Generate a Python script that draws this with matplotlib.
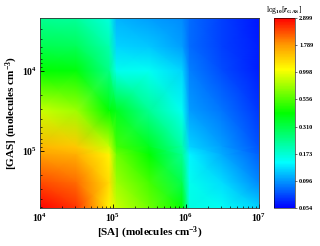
import numpy as np
import matplotlib
matplotlib.use("Agg")
import matplotlib.pyplot as plt
from matplotlib.colors import LinearSegmentedColormap, FuncNorm

# ── Data ──────────────────────────────────────────────────────
# grid nodes along [SA] (x) and [GAS] (y), molecules cm^-3
sa_nodes = [1.0e4, 3.16e4, 8.9e4, 1.12e5, 3.16e5, 8.9e5, 1.12e6, 3.16e6, 1.0e7]
gas_nodes = [2.18e3, 5.0e3, 1.0e4, 3.16e4, 8.9e4, 1.12e5, 2.5e5, 5.16e5]

# r_GAS at each node (rows follow gas_nodes, columns follow sa_nodes)
r_gas = [
    [0.226, 0.217, 0.163, 0.108, 0.0997, 0.0919, 0.0813, 0.0690, 0.0586],
    [0.301, 0.289, 0.200, 0.122, 0.117, 0.0997, 0.0813, 0.0690, 0.0610],
    [0.417, 0.400, 0.235, 0.156, 0.150, 0.122, 0.0882, 0.0719, 0.0610],
    [0.870, 0.739, 0.417, 0.369, 0.226, 0.150, 0.0997, 0.0847, 0.0663],
    [1.541, 1.420, 0.870, 0.533, 0.369, 0.208, 0.122, 0.0997, 0.0749],
    [1.743, 1.605, 1.111, 0.627, 0.417, 0.226, 0.138, 0.104, 0.0780],
    [2.289, 2.068, 1.257, 0.739, 0.533, 0.301, 0.156, 0.127, 0.0919],
    [2.899, 2.449, 1.111, 0.870, 0.627, 0.417, 0.163, 0.150, 0.122],
]

# colour bar tick values (evenly spaced on the bar)
cbar_ticks = [0.054, 0.096, 0.173, 0.310, 0.556, 0.998, 1.789, 2.899]
cbar_labels = ["0.054", "0.096", "0.173", "0.310", "0.556", "0.998", "1.789", "2.899"]

# ── Fonts: bold Times-like serif everywhere ───────────────────
plt.rcParams["font.family"] = ["Liberation Serif", "DejaVu Serif"]
plt.rcParams["font.weight"] = "bold"
plt.rcParams["mathtext.fontset"] = "custom"
plt.rcParams["mathtext.rm"] = "Liberation Serif:bold"
plt.rcParams["mathtext.it"] = "Liberation Serif:italic:bold"
plt.rcParams["mathtext.bf"] = "Liberation Serif:bold"
plt.rcParams["mathtext.default"] = "rm"

# rainbow-like colour map, blue -> cyan -> green -> yellow -> red
cmap = LinearSegmentedColormap.from_list("rgas", [
    (0.00, "#0000ff"),
    (0.24, "#00ffff"),
    (0.50, "#00ff00"),
    (0.73, "#ffff00"),
    (0.86, "#ff9900"),
    (1.00, "#ff0000"),
])

# the colour bar puts its labelled values at equal steps
tick_pos = np.linspace(0, 1, len(cbar_ticks))
log_ticks = np.log10(cbar_ticks)


def forward(v):
    return np.interp(np.log10(np.clip(v, 1e-6, None)), log_ticks, tick_pos)


def inverse(f):
    return 10 ** np.interp(f, tick_pos, log_ticks)


norm = FuncNorm((forward, inverse), vmin=cbar_ticks[0], vmax=cbar_ticks[-1])

fig = plt.figure(figsize=(3.2, 2.46), dpi=100)
ax = fig.add_axes([0.125, 0.154, 0.684, 0.773])
cax = fig.add_axes([0.856, 0.154, 0.066, 0.773])

mesh = ax.pcolormesh(sa_nodes, gas_nodes, np.array(r_gas), cmap=cmap, norm=norm,
                     shading="gouraud")

ax.set_xscale("log")
ax.set_yscale("log")
ax.set_xlim(1e4, 1e7)
ax.set_ylim(gas_nodes[-1], gas_nodes[0])  # larger [GAS] towards the bottom

ax.set_xlabel(r"[SA] (molecules cm$^{-3}$)", fontsize=8, fontweight="bold", labelpad=1)
ax.set_ylabel(r"[GAS] (molecules cm$^{-3}$)", fontsize=8, fontweight="bold", labelpad=1)
ax.tick_params(which="both", direction="in", top=False, right=False, labelsize=7)
ax.tick_params(which="major", length=3, width=0.6, pad=2.5)
ax.tick_params(which="minor", length=1.6, width=0.5)
for sp in ax.spines.values():
    sp.set_linewidth(0.6)
    sp.set_color("#333333")

# ── Colour bar ────────────────────────────────────────────────
cbar = fig.colorbar(mesh, cax=cax, ticks=cbar_ticks)
cbar.set_ticklabels(cbar_labels)
cbar.minorticks_off()
cbar.outline.set_linewidth(0.4)
cax.tick_params(labelsize=4.5, length=1.5, width=0.4, pad=1.5)
cax.set_title(r"log$_{10}$[$\it{r}$$_{\rm GAS}$]", fontsize=5.5, pad=4)

fig.savefig("out.png", dpi=100)
